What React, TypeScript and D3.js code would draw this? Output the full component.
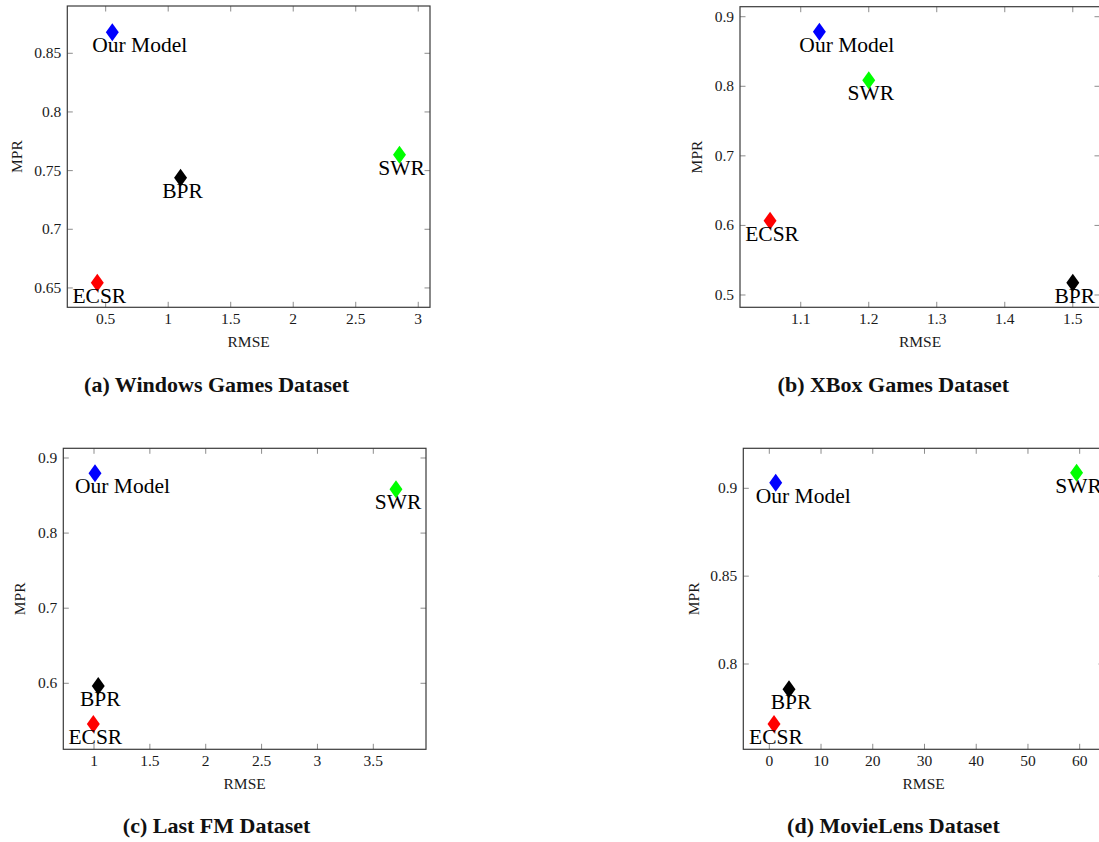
import { useEffect, useRef } from 'react';
import * as d3 from 'd3';

// methods, in drawing order
const methods = ['Our Model', 'SWR', 'BPR', 'ECSR'];
const methodColors = ['#0000ff', '#00ff00', '#000000', '#ff0000'];

// (a) Windows Games
const windowsRmse = [0.553, 2.85, 1.099, 0.433];
const windowsMpr = [0.868, 0.7636, 0.744, 0.6545];
const windowsXTicks = [0.5, 1, 1.5, 2, 2.5, 3];
const windowsYTicks = [0.65, 0.7, 0.75, 0.8, 0.85];

// (b) XBox Games
const xboxRmse = [1.1274, 1.2, 1.5, 1.0549];
const xboxMpr = [0.8784, 0.8086, 0.5177, 0.6066];
const xboxXTicks = [1.1, 1.2, 1.3, 1.4, 1.5];
const xboxYTicks = [0.5, 0.6, 0.7, 0.8, 0.9];

// (c) Last FM
const lastfmRmse = [1.009, 3.703, 1.038, 0.994];
const lastfmMpr = [0.8796, 0.8583, 0.5964, 0.5458];
const lastfmXTicks = [1, 1.5, 2, 2.5, 3, 3.5];
const lastfmYTicks = [0.6, 0.7, 0.8, 0.9];

// (d) MovieLens
const movielensRmse = [1.24, 59.4, 3.81, 0.91];
const movielensMpr = [0.9032, 0.9089, 0.7856, 0.7658];
const movielensXTicks = [0, 10, 20, 30, 40, 50, 60];
const movielensYTicks = [0.8, 0.85, 0.9];

const captions = [
  '(a) Windows Games Dataset',
  '(b) XBox Games Dataset',
  '(c) Last FM Dataset',
  '(d) MovieLens Dataset',
];

const FONT = '"Liberation Serif", "Times New Roman", serif';

// pgfplots-style diamond* (a bit taller than wide)
const diamond = {
  draw(ctx: any, size: number) {
    const h = Math.sqrt(size) / 2;
    const w = h * 0.72;
    ctx.moveTo(0, -h);
    ctx.lineTo(w, 0);
    ctx.lineTo(0, h);
    ctx.lineTo(-w, 0);
    ctx.closePath();
  },
};

export default function App() {
  const svgRef = useRef<SVGSVGElement>(null);

  useEffect(() => {
    if (!svgRef.current) return;
    const svg = d3.select(svgRef.current);
    svg.selectAll('*').remove();

    const panels = [
      {
        rmse: windowsRmse, mpr: windowsMpr, xTicks: windowsXTicks, yTicks: windowsYTicks,
        xDomain: [0.193, 3.094], yDomain: [0.6335, 0.8903],
        box: { left: 67.3, right: 430, top: 6, bottom: 307.3 },
        yLabelX: 22, captionX: 216.6, captionY: 391.7,
      },
      {
        rmse: xboxRmse, mpr: xboxMpr, xTicks: xboxXTicks, yTicks: xboxYTicks,
        xDomain: [1.0107, 1.540], yDomain: [0.4823, 0.9144],
        box: { left: 740, right: 1100, top: 6.7, bottom: 307.3 },
        yLabelX: 702, captionX: 893.4, captionY: 391.7,
      },
      {
        rmse: lastfmRmse, mpr: lastfmMpr, xTicks: lastfmXTicks, yTicks: lastfmYTicks,
        xDomain: [0.7252, 3.9717], yDomain: [0.5121, 0.9129],
        box: { left: 63.3, right: 426, top: 448.3, bottom: 749.3 },
        yLabelX: 25, captionX: 216.6, captionY: 833.3,
      },
      {
        rmse: movielensRmse, mpr: movielensMpr, xTicks: movielensXTicks, yTicks: movielensYTicks,
        xDomain: [-5.026, 64.70], yDomain: [0.75145, 0.92277],
        box: { left: 743.3, right: 1104, top: 448.3, bottom: 749.3 },
        yLabelX: 698.5, captionX: 893.4, captionY: 833.3,
      },
    ];

    panels.forEach((p, pi) => {
      const { left, right, top, bottom } = p.box;
      const x = d3.scaleLinear().domain(p.xDomain).range([left, right]);
      const y = d3.scaleLinear().domain(p.yDomain).range([bottom, top]);
      const g = svg.append('g');

      // ticks on all four sides, pointing inward
      const tickLen = 5.5;
      const fmt = (v: number) => String(v);
      const ticks = g.append('g').attr('stroke', '#8c8c8c').attr('stroke-width', 1);
      p.xTicks.forEach((v) => {
        ticks.append('line').attr('x1', x(v)).attr('x2', x(v)).attr('y1', bottom).attr('y2', bottom - tickLen);
        ticks.append('line').attr('x1', x(v)).attr('x2', x(v)).attr('y1', top).attr('y2', top + tickLen);
      });
      p.yTicks.forEach((v) => {
        ticks.append('line').attr('x1', left).attr('x2', left + tickLen).attr('y1', y(v)).attr('y2', y(v));
        ticks.append('line').attr('x1', right).attr('x2', right - tickLen).attr('y1', y(v)).attr('y2', y(v));
      });

      // frame
      g.append('rect')
        .attr('x', left).attr('y', top)
        .attr('width', right - left).attr('height', bottom - top)
        .attr('fill', 'none').attr('stroke', '#3a3a3a').attr('stroke-width', 1.2);

      // tick labels
      g.selectAll('text.xt').data(p.xTicks).enter().append('text')
        .attr('x', (d) => x(d)).attr('y', bottom + 17)
        .attr('text-anchor', 'middle')
        .attr('font-family', FONT).attr('font-size', 15.5).attr('fill', '#1a1a1a')
        .text(fmt);
      g.selectAll('text.yt').data(p.yTicks).enter().append('text')
        .attr('x', left - 6).attr('y', (d) => y(d) + 5)
        .attr('text-anchor', 'end')
        .attr('font-family', FONT).attr('font-size', 15.5).attr('fill', '#1a1a1a')
        .text(fmt);

      // axis labels
      g.append('text')
        .attr('x', (left + right) / 2).attr('y', bottom + 40)
        .attr('text-anchor', 'middle')
        .attr('font-family', FONT).attr('font-size', 15.5).attr('fill', '#1a1a1a')
        .text('RMSE');
      g.append('text')
        .attr('transform', `translate(${p.yLabelX}, ${(top + bottom) / 2}) rotate(-90)`)
        .attr('text-anchor', 'middle')
        .attr('font-family', FONT).attr('font-size', 15.5).attr('fill', '#1a1a1a')
        .text('MPR');

      // markers
      const sym = d3.symbol().type(diamond as any).size(18 * 18);
      methods.forEach((m, i) => {
        g.append('path')
          .attr('transform', `translate(${x(p.rmse[i])}, ${y(p.mpr[i])})`)
          .attr('d', sym() as string)
          .attr('fill', methodColors[i]);
      });

      // point labels, below each marker
      methods.forEach((m, i) => {
        const isOurs = m === 'Our Model';
        g.append('text')
          .attr('x', x(p.rmse[i]) + (isOurs ? -20 : 2))
          .attr('y', y(p.mpr[i]) + 20)
          .attr('text-anchor', isOurs ? 'start' : 'middle')
          .attr('font-family', FONT).attr('font-size', 21.5).attr('fill', '#000')
          .text(m);
      });

      // caption
      svg.append('text')
        .attr('x', p.captionX).attr('y', p.captionY)
        .attr('text-anchor', 'middle')
        .attr('font-family', FONT).attr('font-size', 22).attr('font-weight', 'bold')
        .attr('fill', '#111')
        .text(captions[pi]);
    });
  }, []);

  return (
    <svg
      ref={svgRef}
      width={1099}
      height={842}
      style={{ position: 'absolute', left: 0, top: 0, background: '#fff' }}
    />
  );
}
